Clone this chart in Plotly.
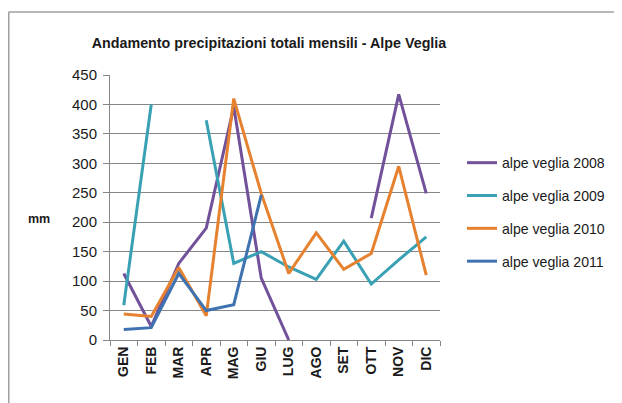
import plotly.graph_objects as go

months = ["GEN", "FEB", "MAR", "APR", "MAG", "GIU", "LUG", "AGO", "SET", "OTT", "NOV", "DIC"]
y2008 = [113, 23, 130, 190, 396, 105, 0, None, None, 207, 417, 249]
y2009 = [59, 400, None, 373, 130, 150, 124, 103, 168, 95, 136, 175]
y2010 = [44, 40, 123, 41, 410, 249, 113, 182, 120, 147, 295, 110]
y2011 = [18, 21, 113, 50, 60, 246, None, None, None, None, None, None]
y_ticks = [0, 50, 100, 150, 200, 250, 300, 350, 400, 450]

series = [
    ("alpe veglia 2008", y2008, "#71519A"),
    ("alpe veglia 2009", y2009, "#3AA0B4"),
    ("alpe veglia 2010", y2010, "#E6822F"),
    ("alpe veglia 2011", y2011, "#3F72B0"),
]

fig = go.Figure()
for i, (name, vals, col) in enumerate(series):
    fig.add_trace(go.Scatter(
        x=months, y=vals, name=name, mode="lines",
        line=dict(color=col, width=3), connectgaps=False,
        legendgroup=str(i),
    ))

OFF = 8  # page body offset
W, H = 622 - OFF, 403 - OFF
L, R, T, B = 110 - OFF, 440 - OFF, 75 - OFF, 340 - OFF


def px(x):
    return (x - OFF - L) / (R - L)


def py(y):
    return (B - (y - OFF)) / (B - T)


fig.update_layout(
    width=W, height=H,
    margin=dict(l=L, r=W - R, t=T, b=H - B, pad=0),
    paper_bgcolor="white", plot_bgcolor="white",
    font=dict(family="Liberation Sans, Arial, sans-serif", color="#1a1a1a"),
    title=dict(text="<b>Andamento precipitazioni totali mensili - Alpe Veglia</b>",
               x=(269 - OFF) / W, xanchor="center", y=1 - (43 - OFF) / H, yanchor="middle",
               font=dict(size=14.3)),
    showlegend=True,
    legend=dict(x=px(462), xanchor="left", y=py(147), yanchor="top",
                font=dict(size=14.1), tracegroupgap=11.5, itemwidth=30,
                bgcolor="rgba(0,0,0,0)"),
    xaxis=dict(type="category", categoryorder="array", categoryarray=months,
               showgrid=False, showline=True, linecolor="#868686", linewidth=1,
               ticks="outside", tickson="boundaries", ticklen=5, tickcolor="#868686",
               tickangle=-90, tickfont=dict(size=14),
               tickprefix="<b>", ticksuffix="</b>", range=[-0.5, 11.5], fixedrange=True),
    yaxis=dict(range=[0, 450], tickvals=y_ticks, showgrid=True, gridcolor="#868686", gridwidth=1,
               showline=True, linecolor="#868686", linewidth=1, zeroline=False,
               ticks="outside", ticklen=6, tickcolor="#868686",
               tickfont=dict(size=15), ticklabelstandoff=3),
)

fig.add_annotation(text="<b>mm</b>", xref="paper", yref="paper",
                   x=px(39), y=py(219), showarrow=False,
                   font=dict(size=12.5), xanchor="center", yanchor="middle")

# chart-area border: top edge and left edge as separate lines
fig.add_shape(type="line", xref="paper", yref="paper",
              x0=px(8.75), x1=px(700), y0=py(12), y1=py(12),
              line=dict(color="#A0A0A0", width=1.5), layer="below")
fig.add_shape(type="line", xref="paper", yref="paper",
              x0=px(8.75), x1=px(8.75), y0=py(12), y1=py(460),
              line=dict(color="#A0A0A0", width=1.5), layer="below")

fig.write_html("out.html")
